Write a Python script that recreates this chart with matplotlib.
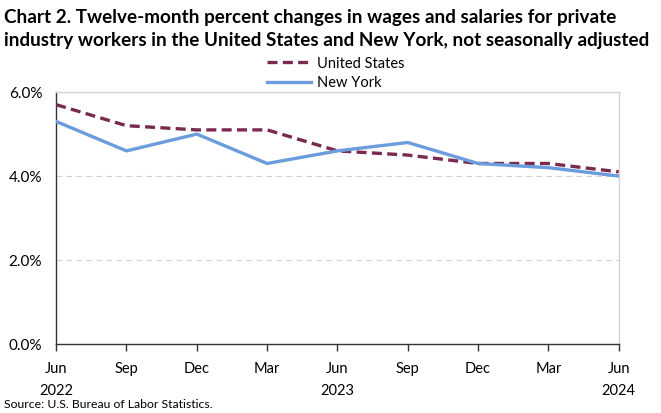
import numpy as np
import matplotlib
matplotlib.use("Agg")
import matplotlib.pyplot as plt
from matplotlib.ticker import PercentFormatter

plt.rcParams['font.family'] = ['Lato', 'DejaVu Sans']

# data (percent)
periods = ["Jun\n2022", "Sep", "Dec", "Mar", "Jun\n2023", "Sep", "Dec", "Mar", "Jun\n2024"]
us_values = [5.7, 5.2, 5.1, 5.1, 4.6, 4.5, 4.3, 4.3, 4.1]
ny_values = [5.3, 4.6, 5.0, 4.3, 4.6, 4.8, 4.3, 4.2, 4.0]
y_ticks = [0.0, 2.0, 4.0, 6.0]

US_COLOR = "#7a2a4f"
NY_COLOR = "#6b9ddc"

fig = plt.figure(figsize=(6.61, 4.13), dpi=100)
ax = fig.add_axes([0.085, 0.167, 0.851, 0.610])

x = np.arange(len(periods))
ax.plot(x, us_values, color=US_COLOR, lw=2.4, ls=(0, (3, 1.6)), label="United States", zorder=3)
ax.plot(x, ny_values, color=NY_COLOR, lw=2.4, label="New York", zorder=3)

ax.set_xlim(0, len(periods) - 1)
ax.set_ylim(0, 6.0)
ax.set_yticks(y_ticks)
ax.yaxis.set_major_formatter(PercentFormatter(decimals=1))
ax.set_xticks(x)
ax.set_xticklabels(periods, fontsize=10.5)
ax.tick_params(axis="y", length=0, labelsize=11, pad=10)
ax.tick_params(axis="x", length=5, width=1, color="#333333", pad=8)
for lbl in ax.get_xticklabels():
    lbl.set_linespacing(1.75)
    lbl.set_verticalalignment("top")

ax.grid(axis="y", color="#d0d0d0", ls=(0, (5, 4)), lw=0.8)
ax.set_axisbelow(True)
for side in ["top", "right"]:
    ax.spines[side].set_color("#d4d4d4")
    ax.spines[side].set_linewidth(1)
for side in ["left", "bottom"]:
    ax.spines[side].set_color("#333333")
    ax.spines[side].set_linewidth(1)

fig.legend(loc="center", bbox_to_anchor=(0.508, 0.823), frameon=False, fontsize=10.5,
           handlelength=3.0, handletextpad=0.4, labelspacing=0.35, borderpad=0)

fig.text(0.006, 0.978, "Chart 2. Twelve-month percent changes in wages and salaries for private\n"
         "industry workers in the United States and New York, not seasonally adjusted",
         fontsize=13.6, fontweight="bold", va="top", ha="left", linespacing=1.45)
fig.text(0.006, 0.008, "Source: U.S. Bureau of Labor Statistics.", fontsize=8.8, va="bottom", ha="left")

fig.savefig("out.png", dpi=100)
